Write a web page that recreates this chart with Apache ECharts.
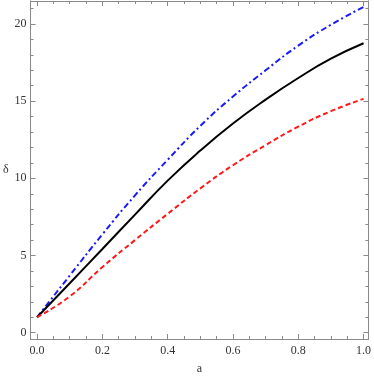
<!DOCTYPE html>
<html>
<head>
<meta charset="utf-8">
<script src="https://cdn.jsdelivr.net/npm/echarts@6/dist/echarts.min.js"></script>
<style>
  html, body {margin:0; padding:0; background:#fff;}
  #chart {width:374px; height:380px;}
</style>
</head>
<body>
<div id="chart"></div>
<script>
// values
let aValues = [0, 0.1, 0.2, 0.3, 0.4, 0.5, 0.6, 0.7, 0.8, 0.9, 1.0];
let blackValues = [1, 3.2, 5.42, 7.65, 9.85, 11.8, 13.55, 15.1, 16.5, 17.75, 18.75];
let blueValues = [1, 3.7, 6.37, 8.9, 11.2, 13.4, 15.3, 17.0, 18.6, 19.95, 21.1];
let redValues = [1, 2.35, 4.25, 6.0, 7.7, 9.35, 10.85, 12.15, 13.35, 14.35, 15.15];

let xMajorTicks = [0, 0.2, 0.4, 0.6, 0.8, 1.0];
let xMinorTicks = [0.05, 0.1, 0.15, 0.25, 0.3, 0.35, 0.45, 0.5, 0.55, 0.65, 0.7, 0.75, 0.85, 0.9, 0.95];
let yMajorTicks = [0, 5, 10, 15, 20];
let yMinorTicks = [1, 2, 3, 4, 6, 7, 8, 9, 11, 12, 13, 14, 16, 17, 18, 19, 21];

const frameColor = '#8a8a8a';
const labelFont = 'Liberation Serif';

function pairs(ys) {
    return aValues.map((a, i) => [a, ys[i]]);
}

// one axis on a side: major or minor ticks pointing inward
function sideAxis(kind, position, ticks, len, labels, extra) {
    let ax = {
        type: 'value',
        position: position,
        min: kind == 'x' ? -0.02 : -0.41,
        max: kind == 'x' ? 1.015 : 21.49,
        axisLine: {show: true, onZero: false, lineStyle: {color: frameColor, width: 1}},
        axisTick: {show: true, inside: true, length: len, customValues: ticks,
                   lineStyle: {color: frameColor, width: 1}},
        axisLabel: {show: false},
        splitLine: {show: false}
    };
    if (labels) {
        ax.axisLabel = {
            show: true,
            customValues: ticks,
            color: '#333',
            fontFamily: labelFont,
            fontSize: 12,
            margin: kind == 'x' ? 6 : 4,
            formatter: v => kind == 'x' ? v.toFixed(1) : String(v)
        };
    }
    return Object.assign(ax, extra || {});
}

let chart = echarts.init(document.getElementById('chart'), null, {renderer: 'canvas'});

let options = {
    animation: false,
    backgroundColor: '#fff',
    grid: {left: 27, right: 1, top: 1, bottom: 34, containLabel: false},
    xAxis: [
        sideAxis('x', 'bottom', xMajorTicks, 5, true, {
            name: 'a', nameLocation: 'middle', nameGap: 24,
            nameTextStyle: {color: '#333', fontFamily: labelFont, fontSize: 12}
        }),
        sideAxis('x', 'bottom', xMinorTicks, 3, false),
        sideAxis('x', 'top', xMajorTicks, 5, false),
        sideAxis('x', 'top', xMinorTicks, 3, false)
    ],
    yAxis: [
        sideAxis('y', 'left', yMajorTicks, 5, true, {
            name: 'δ', nameLocation: 'middle', nameGap: 20, nameRotate: 0,
            nameTextStyle: {color: '#333', fontFamily: labelFont, fontSize: 12}
        }),
        sideAxis('y', 'left', yMinorTicks, 3, false),
        sideAxis('y', 'right', yMajorTicks, 5, false),
        sideAxis('y', 'right', yMinorTicks, 3, false)
    ],
    series: [
        {
            type: 'line', name: 'blue', data: pairs(blueValues), smooth: true,
            showSymbol: false, silent: true,
            lineStyle: {color: '#1a1aff', width: 2, type: [6, 3, 2, 3]}
        },
        {
            type: 'line', name: 'black', data: pairs(blackValues), smooth: true,
            showSymbol: false, silent: true,
            lineStyle: {color: '#000', width: 2, type: 'solid'}
        },
        {
            type: 'line', name: 'red', data: pairs(redValues), smooth: true,
            showSymbol: false, silent: true,
            lineStyle: {color: '#ff1a1a', width: 2, type: [5, 3]}
        }
    ]
};
chart.setOption(options);
</script>
</body>
</html>
